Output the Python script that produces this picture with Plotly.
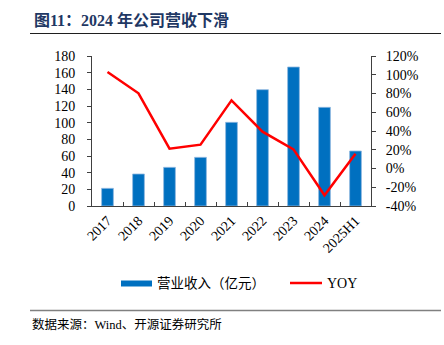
import plotly.graph_objects as go

categories = ["2017", "2018", "2019", "2020", "2021", "2022", "2023", "2024", "2025H1"]
revenue = [21.2, 38.4, 46.4, 58.4, 100.4, 139.6, 166.8, 118.4, 66.0]
yoy = [102.9, 80.2, 21.2, 25.4, 72.7, 39.3, 20.4, -28.6, 15.8]
left_ticks = list(range(0, 181, 20))
right_ticks = list(range(-40, 121, 20))

W, H = 444, 345
L, R, T, B = 92, 371, 56, 206

def px(x):
    return (x - L) / (R - L)

def py(y):
    return (B - y) / (B - T)

SERIF = "Liberation Serif, Times New Roman, Noto Serif CJK SC, Noto Sans CJK SC, serif"
CJK = "Liberation Serif, Noto Sans CJK SC, serif"

fig = go.Figure()
fig.add_trace(go.Bar(
    x=categories, y=revenue, name="营业收入（亿元）",
    marker=dict(color="#0070C0", line=dict(color="#8FB8E0", width=0.8)),
    width=0.38, yaxis="y", showlegend=False,
))
fig.add_trace(go.Scatter(
    x=categories, y=yoy, name="YOY", mode="lines",
    line=dict(color="#FF0000", width=2.5), yaxis="y2", showlegend=False,
))

axis_common = dict(showgrid=False, zeroline=False, showline=True,
                   linecolor="#404040", linewidth=1, ticks="outside",
                   ticklen=4, tickcolor="#404040",
                   tickfont=dict(family=SERIF, size=14, color="#000000"))

fig.update_layout(
    width=W, height=H,
    margin=dict(l=L, r=W - R, t=T, b=H - B, pad=0),
    plot_bgcolor="white", paper_bgcolor="white",
    xaxis=dict(showgrid=False, showline=True, linecolor="#404040", linewidth=1,
               ticks="inside", ticklen=4, tickcolor="#404040",
               tickson="boundaries", tickangle=-45,
               tickfont=dict(family=SERIF, size=14, color="#000000")),
    yaxis=dict(range=[0, 180], tickvals=left_ticks, ticklabelstandoff=9, **axis_common),
    yaxis2=dict(range=[-40, 120], tickvals=right_ticks,
                ticktext=[f"{v}%" for v in right_ticks],
                overlaying="y", side="right", ticklabelstandoff=7, **axis_common),
    bargap=0.6,
)

# Title and rules
fig.add_annotation(x=px(32), y=py(20), xref="paper", yref="paper",
                   text="<b>图11：2024 年公司营收下滑</b>", showarrow=False,
                   xanchor="left", yanchor="middle",
                   font=dict(family=CJK, size=16, color="#1F3864"))
fig.add_shape(type="line", xref="paper", yref="paper",
              x0=px(30), x1=px(441), y0=py(33.5), y1=py(33.5),
              line=dict(color="#1F1F1F", width=1.2))
fig.add_shape(type="line", xref="paper", yref="paper",
              x0=px(30), x1=px(441), y0=py(310.5), y1=py(310.5),
              line=dict(color="#808080", width=1.5))
fig.add_annotation(x=px(30), y=py(324), xref="paper", yref="paper",
                   text="数据来源：Wind、开源证券研究所", showarrow=False,
                   xanchor="left", yanchor="middle",
                   font=dict(family=CJK, size=12.5, color="#000000"))

# Legend
fig.add_shape(type="rect", xref="paper", yref="paper",
              x0=px(121), x1=px(152), y0=py(280.5), y1=py(286.5),
              fillcolor="#0070C0", line=dict(width=0))
fig.add_annotation(x=px(155), y=py(283), xref="paper", yref="paper",
                   text="营业收入（亿元）", showarrow=False,
                   xanchor="left", yanchor="middle",
                   font=dict(family=CJK, size=13.5, color="#000000"))
fig.add_shape(type="line", xref="paper", yref="paper",
              x0=px(290), x1=px(322), y0=py(283), y1=py(283),
              line=dict(color="#FF0000", width=2.5))
fig.add_annotation(x=px(325), y=py(283), xref="paper", yref="paper",
                   text="YOY", showarrow=False,
                   xanchor="left", yanchor="middle",
                   font=dict(family=SERIF, size=14, color="#000000"))

fig.write_html("out.html")
